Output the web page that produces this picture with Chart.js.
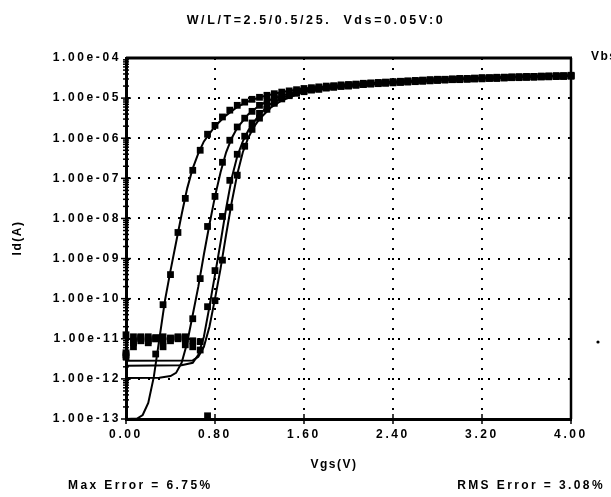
<!DOCTYPE html>
<html lang="en">
<head>
    <meta charset="UTF-8">
    <title>Id-Vgs</title>
    <script src="https://cdn.jsdelivr.net/npm/chart.js"></script>
    <style>
        body { margin: 0; background: #ffffff; }
        canvas { display: block; }
    </style>
</head>
<body>
    <canvas id="myChart" width="611" height="497"></canvas>

    <script>
        // Vgs steps of the measured data (V)
        const vgsMeas = [0, 0.067, 0.133, 0.2, 0.267, 0.333, 0.4, 0.467, 0.533, 0.6,
            0.667, 0.733, 0.8, 0.867, 0.933, 1.0, 1.067, 1.133, 1.2, 1.267,
            1.333, 1.4, 1.467, 1.533, 1.6, 1.667, 1.733, 1.8, 1.867, 1.933,
            2.0, 2.067, 2.133, 2.2, 2.267, 2.333, 2.4, 2.467, 2.533, 2.6,
            2.667, 2.733, 2.8, 2.867, 2.933, 3.0, 3.067, 3.133, 3.2, 3.267,
            3.333, 3.4, 3.467, 3.533, 3.6, 3.667, 3.733, 3.8, 3.867, 3.933, 4.0];

        const measA = [-11.35, -11.05, -10.95, -11.0, -10.97, -10.15, -9.4, -8.35, -7.5, -6.8,
            -6.3, -5.9, -5.68, -5.47, -5.3, -5.18, -5.1, -5.03, -4.98, -4.93,
            -4.89, -4.85, -4.82, -4.79, -4.76, -4.74, -4.72, -4.70, -4.69, -4.67,
            -4.66, -4.65, -4.63, -4.62, -4.61, -4.60, -4.59, -4.58, -4.57, -4.56,
            -4.55, -4.54, -4.53, -4.53, -4.52, -4.51, -4.51, -4.50, -4.49, -4.49,
            -4.48, -4.48, -4.47, -4.47, -4.46, -4.46, -4.45, -4.45, -4.44, -4.44, -4.43];
        const measB = [-11.45, -11.1, -10.97, -11.05, -11.38, -10.95, -11.0, -10.97, -11.15, -10.5,
            -9.5, -8.2, -7.45, -6.6, -6.05, -5.72, -5.5, -5.33, -5.18, -5.07,
            -5.0, -4.94, -4.89, -4.84, -4.8, -4.77, -4.75, -4.73, -4.71, -4.69,
            -4.68, -4.66, -4.65, -4.64, -4.62, -4.61, -4.60, -4.59, -4.58, -4.57,
            -4.56, -4.55, -4.54, -4.54, -4.53, -4.52, -4.52, -4.51, -4.50, -4.50,
            -4.49, -4.48, -4.48, -4.47, -4.47, -4.46, -4.46, -4.45, -4.45, -4.45, -4.44];
        const measC = [-10.9, -11.2, -11.0, -10.95, -11.0, -11.05, -10.98, -11.0, -10.95, -11.05,
            -11.07, -10.2, -9.3, -7.95, -7.05, -6.4, -5.95, -5.62, -5.38, -5.2,
            -5.08, -4.98, -4.92, -4.86, -4.82, -4.79, -4.77, -4.74, -4.72, -4.70,
            -4.69, -4.67, -4.66, -4.64, -4.63, -4.62, -4.61, -4.60, -4.59, -4.58,
            -4.57, -4.56, -4.55, -4.54, -4.54, -4.53, -4.52, -4.52, -4.51, -4.50,
            -4.50, -4.49, -4.49, -4.48, -4.48, -4.47, -4.47, -4.46, -4.46, -4.45, -4.45];
        const measD = [-11.4, -10.95, -11.05, -11.1, -11.0, -11.2, -11.05, -10.95, -11.0, -11.2,
            -11.28, -12.92, -10.05, -9.04, -7.72, -6.92, -6.2, -5.78, -5.5, -5.28,
            -5.13, -5.02, -4.94, -4.88, -4.84, -4.80, -4.78, -4.75, -4.73, -4.71,
            -4.70, -4.68, -4.66, -4.65, -4.64, -4.63, -4.62, -4.61, -4.60, -4.59,
            -4.58, -4.57, -4.56, -4.55, -4.54, -4.54, -4.53, -4.52, -4.52, -4.51,
            -4.51, -4.50, -4.49, -4.49, -4.48, -4.48, -4.47, -4.47, -4.46, -4.46, -4.45];

        // model curves (solid lines), log10(Id)
        const vgsFitA = [0, 0.1, 0.15, 0.2, 0.25, 0.3, 0.35, 0.4, 0.45, 0.5, 0.55, 0.6, 0.65, 0.7,
            0.8, 0.9, 1.0, 1.1, 1.2, 1.4, 1.6, 2.0, 2.4, 2.8, 3.2, 3.6, 4.0];
        const fitA = [-13.0, -12.99, -12.9, -12.6, -11.95, -11.0, -10.05, -9.3, -8.6, -7.9, -7.25, -6.75, -6.38, -6.08,
            -5.7, -5.43, -5.22, -5.08, -4.98, -4.85, -4.76, -4.66, -4.59, -4.53, -4.49, -4.46, -4.43];
        const vgsFitB = [0, 0.3, 0.4, 0.45, 0.5, 0.55, 0.6, 0.65, 0.7, 0.75, 0.8, 0.85, 0.9, 0.95,
            1.0, 1.1, 1.2, 1.3, 1.4, 1.6, 2.0, 2.4, 2.8, 3.2, 3.6, 4.0];
        const fitB = [-11.98, -11.97, -11.93, -11.85, -11.6, -11.1, -10.4, -9.7, -8.9, -8.15, -7.45, -6.85, -6.35, -6.0,
            -5.74, -5.4, -5.18, -5.04, -4.94, -4.8, -4.68, -4.6, -4.54, -4.5, -4.46, -4.44];
        const vgsFitC = [0, 0.5, 0.6, 0.65, 0.7, 0.75, 0.8, 0.85, 0.9, 0.95, 1.0, 1.05, 1.1,
            1.2, 1.3, 1.4, 1.6, 2.0, 2.4, 2.8, 3.2, 3.6, 4.0];
        const fitC = [-11.67, -11.66, -11.6, -11.4, -10.95, -10.2, -9.4, -8.6, -7.75, -7.0, -6.45, -6.08, -5.8,
            -5.4, -5.15, -5.0, -4.82, -4.69, -4.61, -4.55, -4.5, -4.47, -4.44];
        const vgsFitD = [0, 0.6, 0.65, 0.7, 0.75, 0.8, 0.85, 0.9, 0.95, 1.0, 1.05, 1.1, 1.15,
            1.2, 1.3, 1.4, 1.6, 2.0, 2.4, 2.8, 3.2, 3.6, 4.0];
        const fitD = [-11.55, -11.54, -11.45, -11.2, -10.7, -10.0, -9.25, -8.4, -7.6, -6.9, -6.35, -5.98, -5.72,
            -5.52, -5.24, -5.06, -4.84, -4.7, -4.62, -4.56, -4.51, -4.47, -4.45];

        // axis ticks
        const xTickValues = [0, 0.8, 1.6, 2.4, 3.2, 4.0];
        const xTickLabels = ['0.00', '0.80', '1.60', '2.40', '3.20', '4.00'];
        const yTickValues = [1e-13, 1e-12, 1e-11, 1e-10, 1e-9, 1e-8, 1e-7, 1e-6, 1e-5, 1e-4];
        const yTickLabels = ['1.00e-13', '1.00e-12', '1.00e-11', '1.00e-10', '1.00e-09',
            '1.00e-08', '1.00e-07', '1.00e-06', '1.00e-05', '1.00e-04'];

        const toPoints = (xs, logs) => xs.map((v, i) => ({ x: v, y: Math.pow(10, logs[i]) }));

        const measured = (data) => ({
            data: data,
            showLine: false,
            pointStyle: 'rect',
            pointRadius: 4.8,
            backgroundColor: '#000',
            borderColor: '#000',
            borderWidth: 0,
            clip: false
        });
        const model = (data) => ({
            data: data,
            showLine: true,
            pointRadius: 0,
            borderColor: '#000',
            borderWidth: 2,
            fill: false
        });

        const font = 'Liberation Sans, Arial, sans-serif';

        const decor = {
            id: 'decor',
            beforeDraw(chart) {
                chart.ctx.letterSpacing = '2.6px';
            },
            afterDraw(chart) {
                const { ctx, chartArea: a, scales: { x, y } } = chart;
                ctx.save();
                ctx.strokeStyle = '#000';
                ctx.fillStyle = '#000';

                // frame
                ctx.lineWidth = 3;
                ctx.beginPath();
                ctx.moveTo(a.left, a.top);
                ctx.lineTo(a.right + 1, a.top);
                ctx.stroke();
                ctx.lineWidth = 2.5;
                ctx.beginPath();
                ctx.moveTo(a.right, a.top);
                ctx.lineTo(a.right, a.bottom);
                ctx.stroke();

                // log minor ticks on the y axis
                ctx.lineWidth = 1.5;
                for (let n = -13; n < -4; n++) {
                    for (let k = 1; k < 10; k++) {
                        const py = y.getPixelForValue(k * Math.pow(10, n));
                        const len = k === 1 ? 5 : 3;
                        ctx.beginPath();
                        ctx.moveTo(a.left - len, py);
                        ctx.lineTo(a.left + len, py);
                        ctx.stroke();
                    }
                }
                // x tick marks
                xTickValues.forEach(v => {
                    const px = x.getPixelForValue(v);
                    ctx.beginPath();
                    ctx.moveTo(px, a.bottom - 5);
                    ctx.lineTo(px, a.bottom + 5);
                    ctx.stroke();
                });

                // texts
                ctx.textBaseline = 'middle';
                ctx.letterSpacing = '2.6px';
                ctx.font = 'bold 12.5px ' + font;
                ctx.textAlign = 'center';
                ctx.fillText('W/L/T=2.5/0.5/25.  Vds=0.05V:0', 316, 21);

                ctx.font = 'bold 12px ' + font;
                ctx.letterSpacing = '1.5px';
                ctx.textAlign = 'left';
                ctx.fillText('Vbs', 591, 57);

                ctx.textAlign = 'center';
                ctx.fillText('Vgs(V)', 334, 465);

                ctx.save();
                ctx.translate(18, 238);
                ctx.rotate(-Math.PI / 2);
                ctx.fillText('Id(A)', 0, 0);
                ctx.restore();

                ctx.letterSpacing = '2.4px';
                ctx.textAlign = 'left';
                ctx.fillText('Max Error = 6.75%', 68, 486);
                ctx.textAlign = 'right';
                ctx.fillText('RMS Error = 3.08%', 605, 486);

                ctx.beginPath();
                ctx.arc(598, 342, 1.6, 0, Math.PI * 2);
                ctx.fill();
                ctx.restore();
            }
        };

        const ctx = document.getElementById('myChart').getContext('2d');
        const chart = new Chart(ctx, {
            type: 'scatter',
            data: {
                datasets: [
                    model(toPoints(vgsFitA, fitA)),
                    model(toPoints(vgsFitB, fitB)),
                    model(toPoints(vgsFitC, fitC)),
                    model(toPoints(vgsFitD, fitD)),
                    measured(toPoints(vgsMeas, measA)),
                    measured(toPoints(vgsMeas, measB)),
                    measured(toPoints(vgsMeas, measC)),
                    measured(toPoints(vgsMeas, measD))
                ]
            },
            options: {
                responsive: false,
                animation: false,
                devicePixelRatio: 1,
                layout: { padding: { left: 0, right: 40, top: 58, bottom: 0 } },
                plugins: { legend: { display: false }, tooltip: { enabled: false } },
                scales: {
                    x: {
                        type: 'linear',
                        min: 0,
                        max: 4,
                        afterBuildTicks: (s) => { s.ticks = xTickValues.map(v => ({ value: v })); },
                        afterFit: (s) => { s.height = 78; },
                        ticks: {
                            color: '#000',
                            padding: 8,
                            maxRotation: 0,
                            font: { family: font, size: 12, weight: 'bold' },
                            callback: (v, i) => xTickLabels[i]
                        },
                        grid: {
                            drawTicks: false,
                            lineWidth: 2,
                            color: (c) => (c.index === 0 || c.index === xTickValues.length - 1) ? 'rgba(0,0,0,0)' : '#000'
                        },
                        border: { display: true, color: '#000', width: 3, dash: [2, 8] }
                    },
                    y: {
                        type: 'logarithmic',
                        min: 1e-13,
                        max: 1e-4,
                        afterBuildTicks: (s) => { s.ticks = yTickValues.map(v => ({ value: v })); },
                        afterFit: (s) => { s.width = 126; },
                        ticks: {
                            color: '#000',
                            padding: 5,
                            font: { family: font, size: 12, weight: 'bold' },
                            callback: (v, i) => yTickLabels[i]
                        },
                        grid: {
                            drawTicks: false,
                            lineWidth: 2,
                            color: (c) => (c.index === 0 || c.index === yTickValues.length - 1) ? 'rgba(0,0,0,0)' : '#000'
                        },
                        border: { display: true, color: '#000', width: 3, dash: [2, 8] }
                    }
                }
            },
            plugins: [decor]
        });
    </script>
</body>
</html>
